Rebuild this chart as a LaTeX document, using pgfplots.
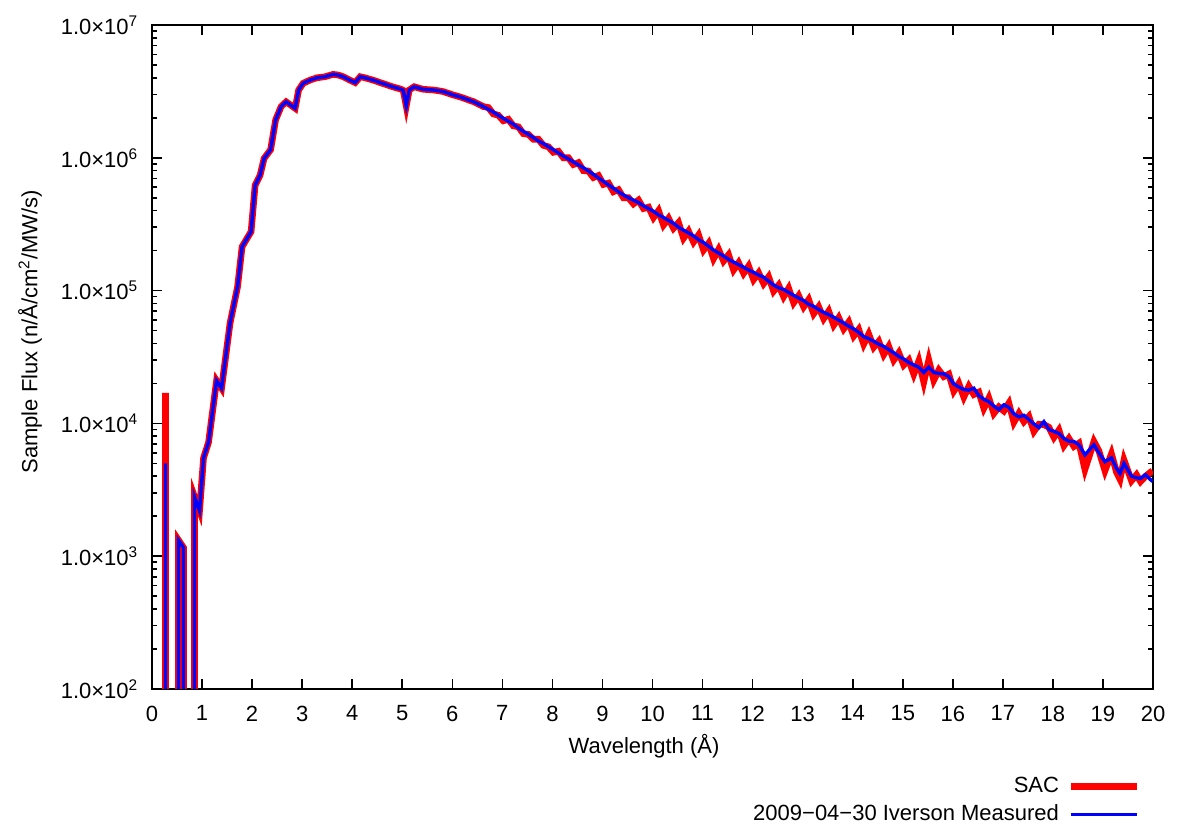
\documentclass[border=0pt]{standalone}
\usepackage{fontspec}
\setmainfont{Liberation Sans}
\usepackage{pgfplots}
\pgfplotsset{compat=1.18}

\definecolor{sacred}{RGB}{255,0,0}
\definecolor{measblue}{RGB}{0,0,255}

\begin{document}
\fontsize{11bp}{13.2bp}\selectfont
\begin{tikzpicture}
\begin{semilogyaxis}[
  scale only axis,
  width=500.5bp, height=332bp,
  xmin=0, xmax=20, ymin=1e2, ymax=1e7,
  axis line style={line width=0.9bp},
  every tick/.style={line width=0.8bp, black},
  tick align=inside,
  major tick length=5bp, minor tick length=2.5bp,
  xtick={0,1,...,20},
  xticklabels={0,1,2,3,4,5,6,7,8,9,10,11,12,13,14,15,16,17,18,19,20},
  ytick={1e2,1e3,1e4,1e5,1e6,1e7},
  yticklabels={1.0×10\textsuperscript{2},1.0×10\textsuperscript{3},1.0×10\textsuperscript{4},1.0×10\textsuperscript{5},1.0×10\textsuperscript{6},1.0×10\textsuperscript{7}},
  yticklabel style={xshift=-3bp},
  xticklabel style={yshift=-4.5bp},
  xlabel={Wavelength (Å)},
  ylabel={Sample Flux (n/Å/cm\textsuperscript{2}/MW/s)},
  every axis x label/.style={at={(axis description cs:0.4915,-0.0858)},anchor=center},
  every axis y label/.style={at={(axis description cs:-0.1219,0.5377)},rotate=90,anchor=center},
  legend style={draw=none, fill=none, at={(axis description cs:1,0)}, anchor=north east,
    xshift=-6bp, yshift=-42.5bp, inner sep=0pt, row sep=1.5bp,
    nodes={inner sep=1.5bp}},
  legend cell align=right,
  legend plot pos=right,
  legend image code/.code={\path (0bp,0bp); \draw[#1] (3bp,0bp) -- (36bp,0bp);},
]
% SAC simulation
\addplot[sacred, line width=3.3bp, line join=miter] coordinates {
(0.27,1e-5)(0.27,1.7e4)(0.27,1e-5)
(0.53,1e-5)(0.53,1.32e3)(0.63,1.16e3)(0.63,1e-5)
(0.85,1e-5)(0.85,2.8e3)(0.95,2.2e3)(1.03,5.5e3)(1.13,7.2e3)(1.29,2.1e4)(1.39,1.84e4)
(1.56,5.7e4)(1.71,1.07e5)(1.80,2.14e5)(1.98,2.78e5)(2.06,6.2e5)(2.16,7.4e5)(2.24,9.9e5)
(2.37,1.15e6)(2.47,1.93e6)(2.58,2.43e6)(2.68,2.64e6)(2.86,2.36e6)(2.93,3.24e6)(3.02,3.64e6)
(3.16,3.85e6)(3.29,4.0e6)(3.46,4.08e6)(3.62,4.25e6)(3.72,4.2e6)(3.82,4.08e6)(3.95,3.85e6)
(4.06,3.68e6)(4.16,4.08e6)(4.26,4.0e6)(4.36,3.9e6)(4.46,3.8e6)(4.56,3.68e6)(4.66,3.58e6)
(4.76,3.47e6)(4.86,3.38e6)(4.96,3.30e6)(5.02,3.22e6)(5.08,2.45e6)(5.14,3.24e6)(5.24,3.43e6)
(5.33,3.35e6)(5.42,3.28e6)(5.52,3.26e6)(5.62,3.24e6)(5.72,3.20e6)(5.82,3.15e6)(5.92,3.06e6)
(6.02,2.97e6)(6.12,2.90e6)(6.22,2.82e6)(6.32,2.73e6)(6.42,2.65e6)(6.52,2.54e6)(6.62,2.43e6)
(6.72,2.39e6)(6.82,2.14e6)(6.92,2.09e6)(7.02,1.90e6)(7.12,1.95e6)(7.22,1.74e6)(7.32,1.71e6)
(7.42,1.52e6)(7.52,1.50e6)(7.62,1.38e6)(7.72,1.38e6)(7.82,1.24e6)(7.92,1.21e6)(8.02,1.10e6)
(8.12,1.12e6)(8.22,1.0e6)(8.32,1.0e6)(8.42,8.9e5)(8.52,9.2e5)(8.62,8.0e5)(8.72,7.95e5)
(8.82,7.1e5)(8.92,7.35e5)(9.02,6.3e5)(9.12,6.45e5)(9.22,5.55e5)(9.32,5.75e5)(9.42,5.0e5)
(9.52,5.0e5)(9.62,4.5e5)(9.72,4.8e5)(9.82,4.15e5)(9.92,4.25e5)(10.02,3.55e5)(10.12,4.0e5)
(10.22,3.12e5)(10.32,3.5e5)(10.42,2.95e5)(10.52,3.25e5)(10.62,2.48e5)(10.72,2.8e5)(10.82,2.32e5)
(10.92,2.62e5)(11.02,2.02e5)(11.12,2.27e5)(11.22,1.74e5)(11.32,2.04e5)(11.42,1.67e5)(11.52,1.86e5)
(11.62,1.43e5)(11.72,1.62e5)(11.82,1.35e5)(11.92,1.53e5)(12.02,1.21e5)(12.12,1.36e5)(12.22,1.13e5)
(12.32,1.27e5)(12.42,9.9e4)(12.52,1.1e5)(12.62,9.0e4)(12.72,1.04e5)(12.82,8.1e4)(12.92,9.15e4)
(13.02,7.55e4)(13.12,8.55e4)(13.22,6.7e4)(13.32,7.55e4)(13.42,6.15e4)(13.52,7.0e4)(13.62,5.5e4)
(13.72,6.25e4)(13.82,5.15e4)(13.92,5.8e4)(14.02,4.55e4)(14.12,5.1e4)(14.22,3.95e4)(14.32,4.7e4)
(14.42,3.75e4)(14.52,4.15e4)(14.62,3.3e4)(14.72,3.8e4)(14.82,3.0e4)(14.92,3.4e4)(15.02,2.75e4)
(15.12,3.0e4)(15.22,2.35e4)(15.32,2.95e4)(15.42,2.05e4)(15.52,3.0e4)(15.62,2.12e4)(15.72,2.52e4)
(15.82,2.25e4)(15.92,2.35e4)(16.02,1.75e4)(16.12,2.0e4)(16.22,1.58e4)(16.32,1.9e4)(16.42,1.65e4)
(16.52,1.72e4)(16.62,1.3e4)(16.72,1.55e4)(16.82,1.19e4)(16.92,1.33e4)(17.02,1.24e4)(17.12,1.42e4)
(17.22,1.02e4)(17.32,1.19e4)(17.42,1.03e4)(17.52,1.13e4)(17.62,8.7e3)(17.72,9.85e3)(17.82,9.8e3)
(17.92,9.35e3)(18.02,7.85e3)(18.12,8.9e3)(18.22,6.8e3)(18.32,7.7e3)(18.42,6.7e3)(18.52,7.1e3)
(18.64,4.5e3)(18.82,7.3e3)(18.92,6.2e3)(19.04,4.4e3)(19.17,5.9e3)(19.27,4.3e3)(19.34,3.8e3)
(19.42,5.3e3)(19.57,3.7e3)(19.67,4.1e3)(19.75,3.65e3)(19.85,4.0e3)(19.99,4.4e3)
};
\addlegendentry{SAC}
% measured spectrum
\addplot[measblue, line width=1.7bp, line join=miter] coordinates {
(0.27,1e-5)(0.27,5.0e3)(0.27,1e-5)
(0.53,1e-5)(0.53,1.32e3)(0.63,1.16e3)(0.63,1e-5)
(0.85,1e-5)(0.85,2.8e3)(0.95,2.2e3)(1.03,5.5e3)(1.13,7.2e3)(1.29,2.1e4)(1.39,1.84e4)
(1.56,5.7e4)(1.71,1.07e5)(1.80,2.14e5)(1.98,2.78e5)(2.06,6.2e5)(2.16,7.4e5)(2.24,9.9e5)
(2.37,1.15e6)(2.47,1.93e6)(2.58,2.43e6)(2.68,2.64e6)(2.86,2.36e6)(2.93,3.24e6)(3.02,3.64e6)
(3.16,3.85e6)(3.29,4.0e6)(3.46,4.08e6)(3.62,4.25e6)(3.72,4.2e6)(3.82,4.08e6)(3.95,3.85e6)
(4.06,3.68e6)(4.16,4.08e6)(4.26,4.0e6)(4.36,3.9e6)(4.46,3.8e6)(4.56,3.68e6)(4.66,3.58e6)
(4.76,3.47e6)(4.86,3.38e6)(4.96,3.30e6)(5.02,3.22e6)(5.08,2.45e6)(5.14,3.24e6)(5.24,3.43e6)
(5.33,3.35e6)(5.42,3.28e6)(5.52,3.26e6)(5.62,3.24e6)(5.72,3.20e6)(5.82,3.15e6)(5.92,3.06e6)
(6.02,2.97e6)(6.12,2.90e6)(6.22,2.82e6)(6.32,2.73e6)(6.42,2.65e6)(6.52,2.54e6)(6.62,2.43e6)
(6.72,2.32e6)(6.82,2.21e6)(6.92,2.09e6)(7.02,1.98e6)(7.12,1.89e6)(7.22,1.79e6)(7.32,1.68e6)
(7.42,1.58e6)(7.52,1.50e6)(7.62,1.42e6)(7.72,1.34e6)(7.82,1.28e6)(7.92,1.21e6)(8.02,1.15e6)
(8.12,1.09e6)(8.22,1.03e6)(8.32,9.8e5)(8.42,9.3e5)(8.52,8.85e5)(8.62,8.4e5)(8.72,7.95e5)
(8.82,7.5e5)(8.92,7.05e5)(9.02,6.65e5)(9.12,6.25e5)(9.22,5.9e5)(9.32,5.55e5)(9.42,5.25e5)
(9.52,5.0e5)(9.62,4.8e5)(9.72,4.6e5)(9.82,4.35e5)(9.92,4.15e5)(10.02,3.95e5)(10.12,3.72e5)
(10.22,3.55e5)(10.32,3.38e5)(10.42,3.21e5)(10.52,3.0e5)(10.62,2.85e5)(10.72,2.72e5)(10.82,2.58e5)
(10.92,2.42e5)(11.02,2.30e5)(11.12,2.16e5)(11.22,2.02e5)(11.32,1.92e5)(11.42,1.82e5)(11.52,1.72e5)
(11.62,1.64e5)(11.72,1.57e5)(11.82,1.50e5)(11.92,1.43e5)(12.02,1.37e5)(12.12,1.31e5)(12.22,1.26e5)
(12.32,1.18e5)(12.42,1.10e5)(12.52,1.05e5)(12.62,1.02e5)(12.72,9.7e4)(12.82,9.2e4)(12.92,8.8e4)
(13.02,8.4e4)(13.12,7.9e4)(13.22,7.6e4)(13.32,7.2e4)(13.42,6.85e4)(13.52,6.6e4)(13.62,6.3e4)
(13.72,6.0e4)(13.82,5.7e4)(13.92,5.4e4)(14.02,5.15e4)(14.12,4.85e4)(14.22,4.5e4)(14.32,4.35e4)
(14.42,4.15e4)(14.52,3.95e4)(14.62,3.8e4)(14.72,3.6e4)(14.82,3.4e4)(14.92,3.2e4)(15.02,3.05e4)
(15.12,2.88e4)(15.22,2.75e4)(15.32,2.65e4)(15.42,2.42e4)(15.52,2.65e4)(15.62,2.42e4)(15.72,2.38e4)
(15.82,2.36e4)(15.92,2.25e4)(16.02,1.98e4)(16.12,1.88e4)(16.22,1.80e4)(16.32,1.78e4)(16.42,1.84e4)
(16.52,1.62e4)(16.62,1.52e4)(16.72,1.46e4)(16.82,1.35e4)(16.92,1.27e4)(17.02,1.38e4)(17.12,1.32e4)
(17.22,1.18e4)(17.32,1.12e4)(17.42,1.15e4)(17.52,1.07e4)(17.62,9.9e3)(17.72,9.3e3)(17.82,1.03e4)
(17.92,9.0e3)(18.02,8.7e3)(18.12,8.4e3)(18.22,7.7e3)(18.32,7.35e3)(18.42,7.3e3)(18.52,6.9e3)
(18.64,5.8e3)(18.82,6.9e3)(18.92,6.0e3)(19.04,5.15e3)(19.17,5.5e3)(19.27,4.6e3)(19.34,4.2e3)
(19.42,5.0e3)(19.57,4.0e3)(19.67,3.9e3)(19.75,3.85e3)(19.85,4.1e3)(19.99,3.65e3)
};
\addlegendentry{2009−04−30 Iverson Measured}
\end{semilogyaxis}
\pgfresetboundingbox
\path ([xshift=-76bp,yshift=-70bp]current axis.south west) rectangle ([xshift=13bp,yshift=12.5bp]current axis.north east);
\end{tikzpicture}
\end{document}
